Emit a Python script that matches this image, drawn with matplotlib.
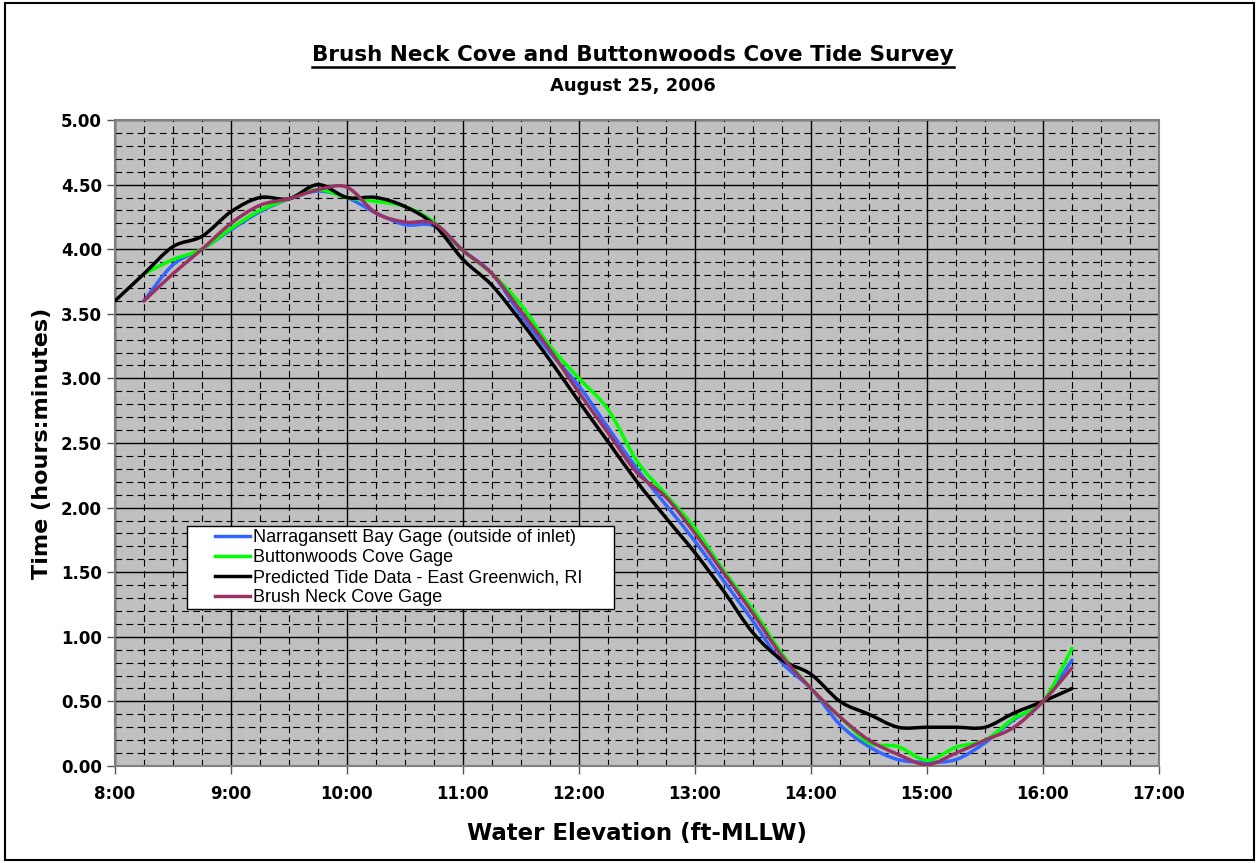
import matplotlib
matplotlib.use("Agg")
import matplotlib.pyplot as plt
from matplotlib.lines import Line2D
from matplotlib.patches import Rectangle, PathPatch
from matplotlib.path import Path
from matplotlib.ticker import MultipleLocator, FuncFormatter

plt.rcParams['font.family'] = ['DejaVu Sans']

# time stamps (every 15 min)
pred_times = ["8:00", "8:15", "8:30", "8:45", "9:00", "9:15", "9:30", "9:45",
              "10:00", "10:15", "10:30", "10:45", "11:00", "11:15", "11:30", "11:45",
              "12:00", "12:15", "12:30", "12:45", "13:00", "13:15", "13:30", "13:45",
              "14:00", "14:15", "14:30", "14:45", "15:00", "15:15", "15:30", "15:45",
              "16:00", "16:15"]
gage_times = pred_times[1:]

narragansett = [3.60, 3.88, 4.00, 4.15, 4.29, 4.39, 4.45, 4.40, 4.28, 4.19, 4.18,
                3.99, 3.81, 3.49, 3.20, 2.94, 2.62, 2.30, 2.02, 1.74, 1.43, 1.12,
                0.80, 0.60, 0.32, 0.15, 0.05, 0.03, 0.05, 0.18, 0.36, 0.50, 0.82]
buttonwoods = [3.81, 3.92, 4.00, 4.16, 4.30, 4.39, 4.46, 4.40, 4.37, 4.33, 4.21,
               3.99, 3.81, 3.57, 3.25, 3.00, 2.76, 2.36, 2.10, 1.84, 1.51, 1.21,
               0.87, 0.60, 0.38, 0.18, 0.15, 0.045, 0.145, 0.20, 0.37, 0.50, 0.91]
predicted = [3.60, 3.81, 4.02, 4.10, 4.29, 4.40, 4.39, 4.50, 4.40, 4.40, 4.33, 4.19,
             3.92, 3.72, 3.44, 3.14, 2.82, 2.51, 2.20, 1.92, 1.65, 1.35, 1.03, 0.82,
             0.71, 0.50, 0.40, 0.30, 0.30, 0.30, 0.30, 0.41, 0.50, 0.60]
brush_neck = [3.60, 3.81, 4.00, 4.20, 4.34, 4.39, 4.46, 4.48, 4.28, 4.21, 4.20,
              3.99, 3.81, 3.52, 3.22, 2.89, 2.58, 2.27, 2.08, 1.80, 1.49, 1.18,
              0.85, 0.60, 0.38, 0.20, 0.09, 0.01, 0.10, 0.20, 0.30, 0.50, 0.76]


def to_hours(t):
    h, m = t.split(":")
    return int(h) + int(m) / 60.0


def smooth_path(xs, ys):
    # Excel-style "smoothed line": cubic bezier through the data points
    pts = list(zip(xs, ys))
    verts = [pts[0]]
    codes = [Path.MOVETO]
    n = len(pts)
    for i in range(n - 1):
        p0 = pts[max(i - 1, 0)]
        p1 = pts[i]
        p2 = pts[i + 1]
        p3 = pts[min(i + 2, n - 1)]
        c1 = (p1[0] + (p2[0] - p0[0]) / 6, p1[1] + (p2[1] - p0[1]) / 6)
        c2 = (p2[0] - (p3[0] - p1[0]) / 6, p2[1] - (p3[1] - p1[1]) / 6)
        verts += [c1, c2, p2]
        codes += [Path.CURVE4] * 3
    return Path(verts, codes)


xp = [to_hours(t) for t in pred_times]
xg = [to_hours(t) for t in gage_times]

fig = plt.figure(figsize=(12.57, 8.63), dpi=100)
ax = fig.add_axes([115/1257, 1-766/863, 1044/1257, 646/863])
ax.set_facecolor('#C0C0C0')

series = [
    (xg, narragansett, '#3366FF', 'Narragansett Bay Gage (outside of inlet)'),
    (xg, buttonwoods, '#00FF00', 'Buttonwoods Cove Gage'),
    (xp, predicted, 'black', 'Predicted Tide Data - East Greenwich, RI'),
    (xg, brush_neck, '#993366', 'Brush Neck Cove Gage'),
]
handles = []
for i, (xs, ys, col, name) in enumerate(series):
    ax.add_patch(PathPatch(smooth_path(xs, ys), facecolor='none', edgecolor=col,
                           lw=2.5, capstyle='round', joinstyle='round', zorder=3 + i * 0.01))
    handles.append(Line2D([], [], color=col, lw=2.5, label=name))

ax.set_xlim(8, 17)
ax.set_ylim(0, 5)
ax.xaxis.set_major_locator(MultipleLocator(1))
ax.xaxis.set_minor_locator(MultipleLocator(0.25))
ax.yaxis.set_major_locator(MultipleLocator(0.5))
ax.yaxis.set_minor_locator(MultipleLocator(0.1))
ax.xaxis.set_major_formatter(FuncFormatter(lambda v, p: "%d:00" % int(round(v))))
ax.yaxis.set_major_formatter(FuncFormatter(lambda v, p: "%.2f" % v))

ax.grid(which='major', color='black', lw=1.0, ls='-')
ax.grid(which='minor', color='black', lw=0.8, ls=(0, (6, 4)))
ax.set_axisbelow(True)
ax.tick_params(which='major', length=6, width=1, color='#555555', direction='out')
ax.tick_params(which='minor', length=0)
ax.tick_params(axis='both', labelsize=12)
ax.tick_params(axis='x', pad=8)
for lab in ax.get_xticklabels() + ax.get_yticklabels():
    lab.set_fontweight('bold')
for s in ax.spines.values():
    s.set_color('#808080')
    s.set_linewidth(1.5)

ax.set_xlabel('Water Elevation (ft-MLLW)', fontsize=16.5, fontweight='bold', labelpad=13)
ax.set_ylabel('Time (hours:minutes)', fontsize=16, fontweight='bold', labelpad=6)

# legend box (white, black edge) like the Excel one
ax.add_patch(Rectangle((72/1044, 157/646), 427/1044, 83/646, transform=ax.transAxes,
                       facecolor='white', edgecolor='black', lw=1.0, zorder=4.9))
leg = ax.legend(handles=handles, loc='upper left', bbox_to_anchor=(100/1044, 237/646),
                borderaxespad=0, prop={'family': 'Liberation Sans', 'size': 13},
                frameon=False, handlelength=1.95, handletextpad=0.17,
                labelspacing=0.17, borderpad=0)

title = fig.text(633/1257, 1-55/863, 'Brush Neck Cove and Buttonwoods Cove Tide Survey',
                 ha='center', va='center', fontsize=15.5, fontweight='bold')
fig.text(633/1257, 1-86/863, 'August 25, 2006', ha='center', va='center',
         fontsize=13, fontweight='bold')

# underline the title
fig.canvas.draw()
bb = title.get_window_extent().transformed(fig.transFigure.inverted())
fig.add_artist(Line2D([bb.x0, bb.x1], [bb.y0 - 0.002, bb.y0 - 0.002],
                      transform=fig.transFigure, color='black', lw=1.8))

# outer chart border
fig.add_artist(Rectangle((5/1257, 3/863), 1249/1257, 857/863, transform=fig.transFigure,
                         fill=False, edgecolor='black', lw=1.5))

fig.savefig('out.png', dpi=100)
